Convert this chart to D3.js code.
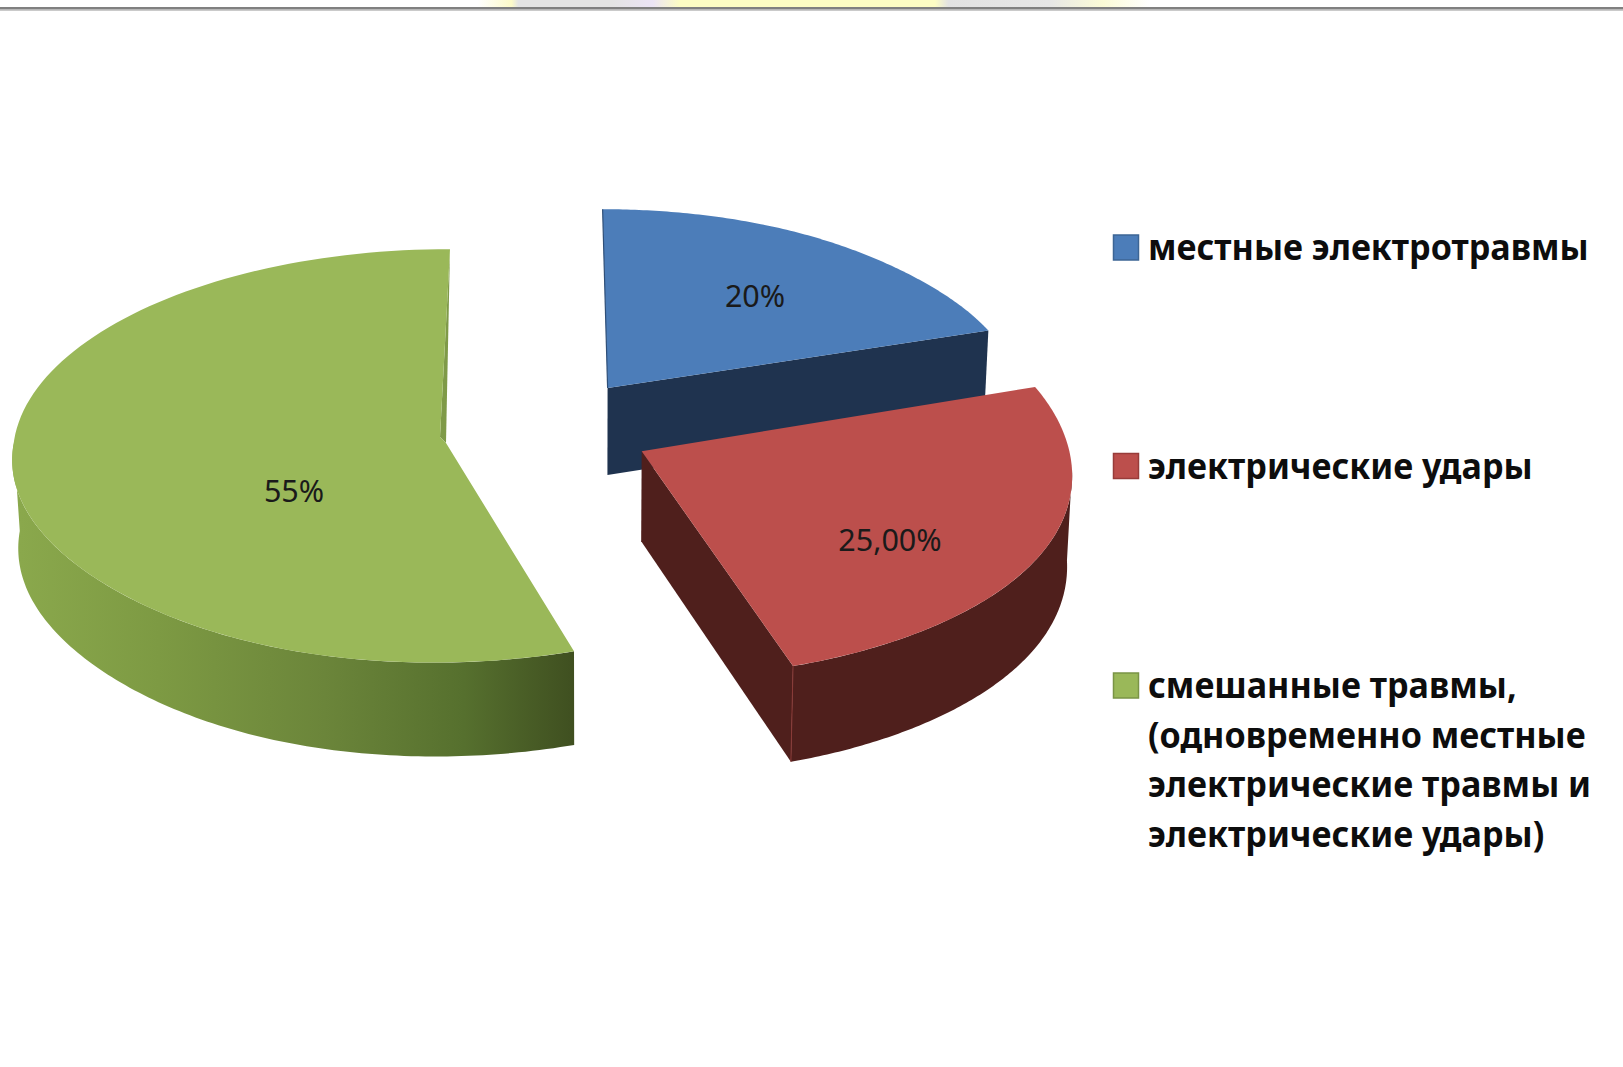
<!DOCTYPE html>
<html lang="ru">
<head>
<meta charset="utf-8">
<title>Виды электротравм</title>
<script src="https://cdn.jsdelivr.net/npm/d3@7"></script>
<style>
  html, body { margin: 0; padding: 0; background: #fff; overflow: hidden; }
  svg { display: block; }
  text { font-family: "Noto Sans", "Open Sans", sans-serif; }
</style>
</head>
<body>
<svg id="chart" width="1623" height="1067"></svg>
<script>
// Chart data
const categories = ["местные электротравмы", "электрические удары", "смешанные травмы"];
const shares = [20, 25, 55];
const valueLabels = ["20%", "25,00%", "55%"];
const legendLines = [
  ["местные электротравмы"],
  ["электрические удары"],
  ["смешанные травмы,", "(одновременно местные", "электрические травмы и", "электрические удары)"]
];

// Palette
const topColors = ["#4c7db9", "#bc4f4c", "#9ab859"];
const wallColors = ["#1f334f", "#4f1f1c", "url(#greenWall)"];
const swatchEdges = ["#3c6595", "#983c3a", "#7a9446"];

const deg = Math.PI / 180;

// Exploded-slice layout: apex, radii, perspective lean, wall height, and a
// local correction of the rim (amount, centre angle, spread)
const layout = [
  { ax: 607.6, ay: 388.0, rx: 411, ry: 190, leanNear: 0,   leanFar: 5,  depth: 87,
    rimAmount: -0.01,  rimAt: 50 * deg,  rimSpread: 20 * deg, lx: 755, ly: 307 },
  { ax: 641.7, ay: 451.3, rx: 425, ry: 212, leanNear: 12,  leanFar: 12, depth: 90,
    rimAmount: 0.015,  rimAt: 118 * deg, rimSpread: 30 * deg, lx: 890, ly: 551 },
  { ax: 446.0, ay: 443.0, rx: 433, ry: 206, leanNear: -15, leanFar: -4, depth: 88,
    rimAmount: -0.016, rimAt: 228 * deg, rimSpread: 28 * deg, lx: 294, ly: 502 }
];
const perspective = 0.0627;
const wallConvergeX = 590;
const wallConverge = 0.0105;

const svg = d3.select("#chart");
const defs = svg.append("defs");

const greenGrad = defs.append("linearGradient")
  .attr("id", "greenWall")
  .attr("gradientUnits", "userSpaceOnUse")
  .attr("x1", 20).attr("x2", 575).attr("y1", 0).attr("y2", 0);
[[0, "#8aa84c"], [0.25, "#7d9a43"], [0.55, "#6b853a"], [0.8, "#56702e"], [1, "#3f4f20"]]
  .forEach(([o, c]) => greenGrad.append("stop").attr("offset", o).attr("stop-color", c));

const sheen = defs.append("linearGradient").attr("id", "bandFade").attr("x1", 0).attr("x2", 1);
[[0, "#ffffff"], [0.05, "#fdfbc9"], [0.06, "#e4e4e4"], [0.2, "#e4e4e4"], [0.26, "#ebe4f5"],
 [0.3, "#fdfdc4"], [0.68, "#fdfdc4"], [0.7, "#e2e2e2"], [0.85, "#e6e6e6"], [0.93, "#fbfbd6"], [1, "#ffffff"]]
  .forEach(([o, c]) => sheen.append("stop").attr("offset", o).attr("stop-color", c));

// Window edge across the top
svg.append("rect").attr("x", 478).attr("y", 0).attr("width", 672).attr("height", 7).attr("fill", "url(#bandFade)");
svg.append("rect").attr("x", 0).attr("y", 7).attr("width", 1623).attr("height", 2.6).attr("fill", "#808080");
svg.append("rect").attr("x", 0).attr("y", 9.6).attr("width", 1623).attr("height", 1.2).attr("fill", "#bdbdbd");

// Slice angles start at twelve o'clock and run clockwise, in data order
const pie = d3.pie().sort(null)(shares);

function projectTop(cfg, angle, radius) {
  const u = Math.sin(angle) * radius;
  const v = -Math.cos(angle) * radius;
  const w = 1 - perspective * v;
  const lean = (v > 0 ? cfg.leanNear : cfg.leanFar) * v;
  const rim = 1 + cfg.rimAmount * Math.exp(-(((angle - cfg.rimAt) / cfg.rimSpread) ** 2));
  return [cfg.ax + rim * (cfg.rx * u / w + lean), cfg.ay + rim * cfg.ry * v / w];
}

function projectBottom(cfg, angle, radius) {
  const [x, y] = projectTop(cfg, angle, radius);
  const v = -Math.cos(angle) * radius;
  const w = 1 - perspective * v;
  return [x + (wallConvergeX - x) * wallConverge, y + cfg.depth / w];
}

const polygon = d3.line().curve(d3.curveLinear);
const arcAngles = (a0, a1) => d3.range(0, 121).map(i => a0 + (a1 - a0) * i / 120);

// A rim wall between two angles: the top rim one way, the bottom rim back
const rimWall = (cfg, a0, a1) => {
  const rim = arcAngles(a0, a1);
  return rim.map(a => projectTop(cfg, a, 1))
    .concat(rim.slice().reverse().map(a => projectBottom(cfg, a, 1)));
};
// A radial wall along one angle, from the apex out to the rim
const radialWall = (cfg, a) => [
  projectTop(cfg, a, 0), projectTop(cfg, a, 1), projectBottom(cfg, a, 1), projectBottom(cfg, a, 0)
];

const slices = pie.map((arc, i) => ({ arc, cfg: layout[i], i }));

// Back-to-front: blue, red, then the green slice
slices.forEach(({ arc, cfg, i }) => {
  const g = svg.append("g").attr("class", "slice").attr("data-name", categories[i]);
  const { startAngle: a0, endAngle: a1 } = arc;

  if (i === 0) {
    g.append("path").attr("d", polygon(radialWall(cfg, a1)) + "Z").attr("fill", wallColors[i]);
  }
  if (i === 1) {
    g.append("path").attr("d", polygon(rimWall(cfg, 95 * deg, a1)) + "Z").attr("fill", wallColors[i]);
    g.append("path").attr("d", polygon(radialWall(cfg, a1)) + "Z").attr("fill", wallColors[i]);
    g.append("path").attr("d", polygon([projectTop(cfg, a1, 1), projectBottom(cfg, a1, 1)]))
      .attr("stroke", "#8a3a37").attr("stroke-width", 1).attr("fill", "none");
  }
  if (i === 2) {
    g.append("path").attr("d", polygon(rimWall(cfg, a0, 1.5 * Math.PI)) + "Z").attr("fill", wallColors[i]);
    // Sliver of the inner face beside the top surface
    const apex = projectTop(cfg, a1, 0);
    const far = projectTop(cfg, a1, 1);
    g.append("path").attr("d", polygon([far, apex, [apex[0] - 6, apex[1] - 6]]) + "Z").attr("fill", "#7f9a48");
  }

  const rim = arcAngles(a0, a1).map(a => projectTop(cfg, a, 1));
  const apexPt = projectTop(cfg, a0, 0);
  const outline = i === 2
    ? [apexPt, ...rim, [apexPt[0] - 6, apexPt[1] - 6]]
    : [apexPt, ...rim];
  g.append("path").attr("d", polygon(outline) + "Z").attr("fill", topColors[i]);

  if (i === 0) {
    // Thin dark edge down the near-vertical side of the first slice
    g.append("path").attr("d", polygon([projectTop(cfg, a0, 1), projectTop(cfg, a0, 0)]))
      .attr("stroke", "#2f4f78").attr("stroke-width", 1.2).attr("fill", "none");
  }
});

// Value labels
svg.append("g").selectAll("text").data(valueLabels).join("text")
  .attr("x", (d, i) => layout[i].lx)
  .attr("y", (d, i) => layout[i].ly)
  .attr("text-anchor", "middle")
  .attr("font-size", 30.5)
  .attr("fill", "#1a1a1a")
  .text(d => d);

// Legend
const legendRows = [247, 465.5, 685];
const legendLineStep = 49.5;
const legendTextX = 1148;
const legendSquash = 0.947;
const legend = svg.append("g").attr("class", "legend");
legendLines.forEach((lines, i) => {
  legend.append("rect")
    .attr("x", 1113.5).attr("y", legendRows[i] - 12)
    .attr("width", 25).attr("height", 25)
    .attr("fill", topColors[i]).attr("stroke", swatchEdges[i]).attr("stroke-width", 1.5);
  lines.forEach((line, j) => {
    const t = legend.append("text")
      .attr("x", legendTextX)
      .attr("y", legendRows[i] + 13 + j * legendLineStep)
      .attr("font-size", 36)
      .attr("font-weight", 700)
      .attr("fill", "#0d0d0d")
      .text(line);
    t.attr("textLength", t.node().getComputedTextLength() * legendSquash)
      .attr("lengthAdjust", "spacingAndGlyphs");
  });
});
</script>
</body>
</html>
